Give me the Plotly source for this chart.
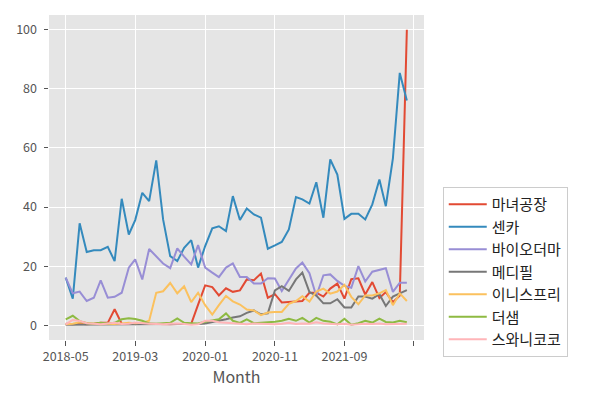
import pandas as pd
import plotly.graph_objects as go

months = [d.strftime("%Y-%m-%d") for d in pd.date_range("2018-05-01", periods=50, freq="MS")]

witch = [0.5, 0.3, 0.5, 0.3, 0.5, 0.8, 0.8, 5.4, 0.5, 0.4, 0.5, 0.4, 0.5, 0.4, 0.5, 0.3, 0.4, 0.5, 0.5, 7.0,
         13.5, 12.9, 10.1, 12.5, 11.3, 11.8, 15.5, 15.2, 17.5, 9.3, 10.5, 7.7, 7.9, 8.2, 8.2, 11.0, 11.0, 9.7, 12.4, 14.1,
         9.0, 15.6, 15.9, 10.4, 14.6, 9.2, 11.2, 7.8, 10.0, 100.0]
senka = [16.1, 9.0, 34.5, 24.8, 25.4, 25.4, 26.5, 21.7, 42.8, 30.7, 35.6, 44.8, 42.0, 55.8, 35.8, 23.4, 21.7, 26.2, 28.8, 19.5,
         26.8, 32.8, 33.5, 31.9, 43.7, 35.6, 39.5, 37.5, 36.4, 25.9, 27.0, 28.2, 32.4, 43.4, 42.6, 41.2, 48.4, 36.4, 56.1, 51.0,
         36.0, 37.7, 37.7, 35.8, 40.9, 49.3, 40.3, 56.5, 85.4, 76.1]
bioderma = [16.1, 10.8, 11.4, 8.2, 9.3, 15.2, 9.3, 9.6, 11.0, 19.5, 22.3, 15.5, 25.8, 23.2, 20.9, 19.3, 26.0, 23.2, 20.6, 27.1,
            19.5, 17.8, 16.3, 19.5, 20.9, 16.3, 16.3, 14.1, 14.1, 15.9, 15.8, 11.6, 15.2, 19.2, 21.2, 17.6, 9.9, 16.9, 17.2, 15.0,
            13.3, 12.7, 20.0, 14.8, 18.1, 18.6, 19.3, 11.3, 14.4, 14.4]
medipeel = [0.2, 0.2, 0.2, 0.2, 0.2, 0.2, 0.2, 0.2, 0.2, 0.2, 0.2, 0.2, 0.2, 0.3, 0.3, 0.3, 0.3, 0.3, 0.3, 0.4,
            0.6, 1.0, 1.5, 2.0, 2.6, 3.0, 4.2, 5.0, 3.7, 4.0, 11.8, 13.2, 11.6, 15.5, 17.8, 11.2, 10.0, 7.4, 7.4, 8.8,
            6.0, 6.0, 9.7, 9.7, 9.0, 10.5, 6.5, 9.7, 10.8, 11.9]
innisfree = [0.3, 0.5, 1.0, 0.8, 0.5, 0.3, 0.5, 0.4, 0.6, 0.8, 0.7, 0.8, 1.5, 11.0, 11.5, 14.3, 10.8, 13.2, 7.8, 11.0,
             6.8, 3.6, 6.8, 9.9, 8.1, 7.0, 5.3, 5.0, 3.4, 4.3, 4.5, 4.5, 7.2, 8.2, 9.8, 8.0, 11.4, 12.4, 10.7, 11.4,
             13.7, 9.6, 7.1, 10.1, 10.1, 10.8, 11.9, 6.8, 10.8, 8.2]
thesaem = [2.0, 3.2, 1.4, 0.7, 0.5, 0.8, 0.6, 0.8, 2.0, 2.4, 2.1, 1.5, 0.6, 0.5, 0.7, 0.8, 2.3, 0.8, 0.7, 0.6,
           1.2, 1.5, 2.0, 4.0, 1.5, 0.8, 2.0, 0.7, 0.8, 1.0, 1.2, 1.5, 2.2, 1.5, 2.5, 0.9, 2.5, 1.5, 1.2, 0.3,
           2.2, 0.2, 0.7, 1.5, 0.9, 2.2, 1.1, 0.9, 1.5, 1.0]
swanicoco = [0.3, 1.8, 1.4, 0.7, 0.5, 0.3, 0.6, 0.8, 0.4, 0.5, 0.9, 0.6, 0.5, 0.4, 0.3, 0.5, 0.6, 0.4, 0.2, 0.3,
             1.5, 1.5, 1.0, 0.8, 0.6, 0.4, 0.3, 0.6, 0.5, 0.4, 0.3, 0.5, 0.8, 0.4, 0.6, 0.5, 1.0, 0.6, 0.5, 0.3,
             0.5, 0.2, 0.3, 0.5, 0.4, 0.6, 0.3, 0.4, 0.6, 0.5]

series_names = ["마녀공장", "센카", "바이오더마", "메디필", "이니스프리", "더샘", "스와니코코"]
series_values = [witch, senka, bioderma, medipeel, innisfree, thesaem, swanicoco]
colors = ["#E24A33", "#348ABD", "#988ED5", "#777777", "#FBC15E", "#8EBA42", "#FFB5B8"]

tick_dates = ["2018-05-01", "2019-03-01", "2020-01-01", "2020-11-01", "2021-09-01", "2022-07-01"]
tick_labels = ["2018-05", "2019-03", "2020-01", "2020-11", "2021-09", ""]

FONT = "Noto Sans CJK KR"

fig = go.Figure()
for name, vals, c in zip(series_names, series_values, colors):
    fig.add_trace(go.Scatter(x=months, y=vals, mode="lines", name=name,
                             line=dict(color=c, width=2)))

fig.update_layout(
    width=584, height=384,
    margin=dict(l=41, r=168, t=7, b=52),
    paper_bgcolor="white",
    plot_bgcolor="#E5E5E5",
    font=dict(family=FONT, size=12, color="#555555"),
    showlegend=True,
    legend=dict(
        x=1.05, xanchor="left", y=-0.052, yanchor="bottom",
        bgcolor="white", bordercolor="#CCCCCC", borderwidth=1,
        font=dict(family=FONT, size=15, color="#222222"),
        tracegroupgap=0, itemwidth=38,
    ),
    xaxis=dict(
        type="date",
        range=["2018-02-17", "2022-08-15"],
        tickvals=tick_dates, ticktext=tick_labels,
        showgrid=True, gridcolor="white", gridwidth=1,
        ticks="outside", ticklen=4.5, tickcolor="#555555",
        zeroline=False, showline=False,
        title=dict(text="Month", font=dict(family=FONT, size=16, color="#555555"), standoff=6),
        tickfont=dict(family=FONT, size=12.5, color="#555555"),
    ),
    yaxis=dict(
        range=[-5, 105],
        tickvals=[0, 20, 40, 60, 80, 100],
        showgrid=True, gridcolor="white", gridwidth=1,
        ticks="outside", ticklen=4.5, tickcolor="#555555",
        zeroline=False, showline=False, ticklabelstandoff=4,
        tickfont=dict(family=FONT, size=12.5, color="#555555"),
    ),
)

fig.write_html("out.html")
